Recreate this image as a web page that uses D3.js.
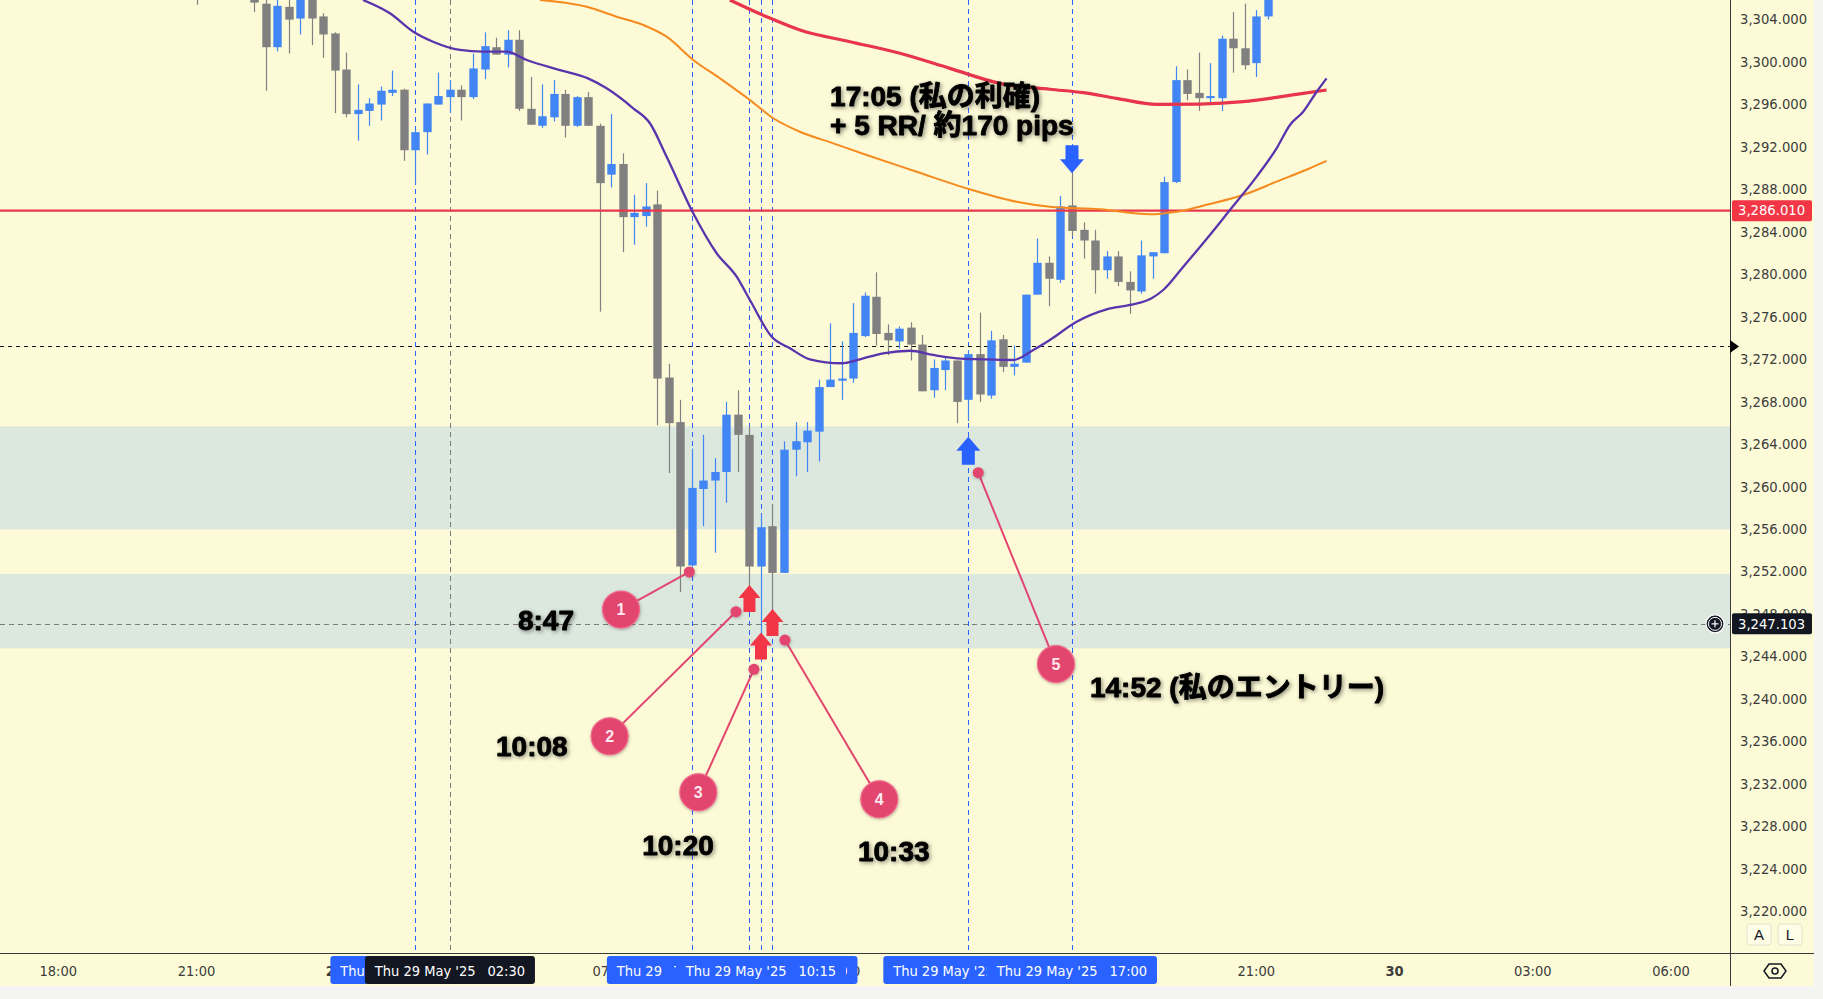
<!DOCTYPE html>
<html><head><meta charset="utf-8">
<script src="https://cdn.jsdelivr.net/npm/d3@7"></script>
<style>
html,body{margin:0;padding:0;background:#f4f4f2;}
svg{display:block;}
</style>
</head><body>
<svg id="chart" width="1823" height="999"></svg>
<script>
// ---------------- DATA ----------------
// 15-minute bars, index = bars since 28 May 18:00 (JST), 06:00-07:00 gap skipped
const barIdx = [12,17,18,19,20,21,22,23,24,25,26,27,28,29,30,31,32,33,34,35,36,37,38,39,40,41,42,43,44,45,46,47,48,49,50,51,52,53,54,55,56,57,58,59,60,61,62,63,64,65,66,67,68,69,70,71,72,73,74,75,76,77,78,79,80,81,82,83,84,85,86,87,88,89,90,91,92,93,94,95,96,97,98,99,100,101,102,103,104,105];
const opens = [3307.2,3306.6,3305.5,3301.4,3305.2,3304.1,3306.8,3304.3,3302.7,3299.3,3295.1,3295.4,3296.0,3297.1,3297.4,3291.7,3293.4,3296.0,3296.7,3297.4,3296.7,3299.3,3301.4,3300.7,3302.1,3295.6,3294.0,3294.8,3297.0,3294.0,3296.7,3294.0,3289.4,3290.4,3285.4,3285.5,3286.6,3270.3,3266.1,3252.6,3259.8,3260.6,3261.4,3266.8,3264.9,3252.5,3256.3,3251.9,3263.5,3264.2,3265.2,3269.4,3270.0,3270.2,3274.2,3277.9,3274.5,3273.7,3275.0,3273.4,3269.1,3271.0,3271.9,3268.2,3272.5,3268.6,3273.9,3271.3,3271.7,3278.1,3281.1,3279.5,3286.5,3284.2,3283.2,3280.4,3281.7,3279.3,3278.4,3281.7,3282.0,3288.7,3298.3,3297.1,3296.6,3296.6,3302.2,3301.3,3299.9,3304.3];
const highs = [3308.0,3307.5,3306.3,3306.2,3306.3,3307.5,3307.2,3304.6,3302.8,3300.9,3297.9,3296.6,3297.7,3299.2,3297.5,3293.7,3296.1,3299.0,3298.3,3297.8,3300.8,3302.8,3302.3,3303.0,3303.0,3298.6,3297.9,3298.3,3297.4,3296.8,3297.2,3294.2,3295.1,3291.4,3287.5,3288.6,3287.9,3271.6,3268.2,3263.6,3264.9,3262.7,3268.0,3269.1,3265.7,3257.4,3258.4,3264.3,3266.1,3266.1,3270.1,3275.4,3273.7,3277.3,3278.3,3280.2,3275.3,3275.1,3275.5,3274.3,3272.0,3272.3,3271.9,3272.9,3276.4,3274.7,3274.3,3273.3,3278.1,3283.4,3281.7,3287.4,3289.6,3284.9,3284.2,3282.2,3282.2,3280.3,3283.2,3282.1,3289.2,3299.6,3299.3,3300.9,3299.9,3302.5,3304.7,3305.5,3304.9,3307.5];
const lows = [3305.4,3304.7,3297.3,3301.0,3300.8,3302.6,3301.6,3300.4,3295.2,3294.8,3292.6,3294.0,3294.5,3296.8,3290.7,3288.6,3291.3,3296.0,3295.2,3294.5,3296.5,3298.4,3300.7,3299.5,3295.4,3294.1,3293.8,3294.4,3292.9,3293.9,3294.0,3276.5,3288.2,3282.1,3282.8,3284.5,3265.8,3261.3,3250.1,3252.5,3256.3,3253.8,3258.5,3261.4,3250.0,3245.5,3248.4,3251.9,3261.0,3261.4,3262.4,3269.4,3268.2,3269.8,3274.1,3273.3,3272.4,3273.0,3271.9,3269.0,3268.4,3269.1,3266.0,3266.2,3268.0,3268.3,3270.8,3270.5,3271.7,3278.1,3277.0,3279.2,3283.6,3281.5,3278.2,3279.6,3278.9,3276.3,3278.2,3279.6,3282.0,3288.6,3296.4,3295.4,3296.1,3295.4,3299.0,3299.3,3298.6,3304.0];
const closes = [3306.8,3305.6,3301.4,3305.3,3304.0,3306.8,3304.1,3302.6,3299.2,3295.1,3295.5,3296.1,3297.3,3297.4,3291.7,3293.4,3296.1,3296.8,3297.4,3296.7,3299.4,3301.5,3300.7,3302.1,3295.6,3294.1,3294.9,3297.0,3294.0,3296.7,3294.0,3288.6,3290.4,3285.4,3285.8,3286.4,3270.2,3266.0,3252.5,3259.9,3260.6,3261.4,3266.8,3264.9,3252.5,3256.2,3251.9,3263.5,3264.3,3265.3,3269.4,3270.1,3270.2,3274.5,3278.0,3274.4,3273.8,3274.9,3273.4,3269.0,3271.2,3271.9,3268.0,3272.5,3268.7,3273.8,3271.3,3271.6,3278.1,3281.1,3279.6,3286.4,3284.1,3283.2,3280.4,3281.7,3279.3,3278.5,3281.8,3282.1,3288.7,3298.3,3297.0,3296.6,3296.8,3302.2,3301.3,3299.7,3304.3,3306.8];

// moving averages: [bar, price]
const maFastBar = [26.45,28.79,30.82,32.53,34.87,36.87,38.92,40.66,43.55,45.98,47.6,49.91,51.36,52.81,55.12,57.15,58.89,60.04,61.93,63.52,65.25,68.0,69.59,71.61,73.93,75.95,77.99,80.3,82.9,84.64,86.08,88.4,91.01,93.03,94.91,95.92,97.66,99.97,101.71,104.03,105.76,106.92,108.07,109.24,110.1];
const maFastVal = [3305.85,3304.59,3302.86,3301.92,3301.14,3300.98,3300.98,3300.20,3299.25,3298.47,3297.53,3295.65,3294.24,3291.09,3285.76,3282.0,3279.79,3277.60,3274.14,3273.05,3272.01,3271.64,3272.01,3272.58,3272.82,3272.42,3272.11,3272.01,3271.95,3272.89,3273.83,3275.55,3276.72,3277.13,3277.76,3278.54,3280.73,3283.72,3286.07,3289.21,3291.88,3294.08,3295.33,3297.21,3298.47];
const maMidBar = [41.81,45.87,48.47,50.78,52.81,55.12,57.44,60.04,62.07,64.38,67.27,70.17,74.51,78.85,83.19,86.08,90.42,94.77,97.08,99.97,102.86,105.76,108.65,110.1];
const maMidVal = [3305.85,3305.21,3304.27,3303.49,3302.39,3300.2,3298.47,3296.43,3294.71,3293.44,3292.35,3291.25,3289.68,3288.11,3286.85,3286.38,3286.14,3285.67,3285.91,3286.64,3287.48,3288.74,3290.0,3290.69];
const maSlowBar = [58.3,61.49,64.38,68.72,73.06,77.4,81.74,86.08,88.98,91.87,95.35,99.1,102.86,105.76,108.07,110.1];
const maSlowVal = [3305.85,3304.27,3303.02,3301.92,3300.83,3299.41,3298.0,3297.44,3297.12,3296.59,3296.02,3296.05,3296.27,3296.68,3297.06,3297.37];

// zones and levels
const zoneTop = [3265.7, 3251.8];
const zoneBottom = [3256.0, 3244.8];
const resistanceLevel = 3286.010;
const lastPriceLevel = 3273.22;
const crossBar = 34;
const crossPrice = 3247.103;
const crossLabel = "Thu 29 May '25";
const crossTime = "02:30";

// vertical marker lines (bars) and their axis labels
const markBars = [31, 55, 60, 62, 61, 79, 88];
const markDates = ["Thu 29 May '25","Thu 29 May '25","Thu 29 May '25","Thu 29 May '25","Thu 29 May '25","Thu 29 May '25","Thu 29 May '25"];
const markTimes = ["01:45","08:45","10:00","10:30","10:15","14:45","17:00"];

// axis ticks
const priceTicks = [3220,3224,3228,3232,3236,3240,3244,3248,3252,3256,3260,3264,3268,3272,3276,3280,3284,3288,3292,3296,3300,3304];
const timeTickBars = [0,12,24,36,48,56,68,80,92,104,116,128,140];
const timeTickLabels = ["18:00","21:00","29","03:00","07:00","09:00","12:00","15:00","18:00","21:00","30","03:00","06:00"];

// arrows
const arrowBar = [60, 61, 62, 79, 88];
const arrowPrice = [3250.76, 3246.3, 3248.5, 3264.73, 3289.53];
const arrowDir = ["up","up","up","up","down"];
const arrowKind = ["red","red","red","blue","blue"];

// numbered callouts
const calloutNum = ["1","2","3","4","5"];
const calloutPtBar = [54.78, 58.83, 60.39, 63.08, 79.86];
const calloutPtPrice = [3251.99, 3248.25, 3242.82, 3245.58, 3261.34];
const calloutLblBar = [48.85, 47.86, 55.56, 71.27, 86.61];
const calloutLblPrice = [3248.45, 3236.51, 3231.24, 3230.58, 3243.32];

// text notes
const noteText = ["8:47","10:08","10:20","10:33","14:52 (私のエントリー)","17:05 (私の利確)","+ 5 RR/ 約170 pips"];
const noteBar = [39.9, 38.0, 50.69, 69.42, 89.56, 67.0, 67.0];
const notePrice = [3246.52, 3234.66, 3225.34, 3224.77, 3240.22, 3295.82, 3293.13];

// ---------------- LAYOUT ----------------
const W = 1823, H = 999;
const chartW = 1814, chartH = 986;
const plotW = 1730, plotH = 953;
const BG = "#fdfbd7";
const UP = "#4285f4", DOWN = "#808080";
const RED = "#f23645", BLUE = "#2962ff", PINK = "#e2456d";

const x = d3.scaleLinear().domain([0, 140]).range([58.3, 1671]);
const y = d3.scaleLinear().domain([3220, 3304]).range([911.7, 19.6]);

const svg = d3.select("#chart");
const defs = svg.append("defs");
defs.append("clipPath").attr("id","plotclip").append("rect").attr("x",0).attr("y",0).attr("width",plotW).attr("height",plotH);
const sh = defs.append("filter").attr("id","tshadow").attr("x","-20%").attr("y","-40%").attr("width","140%").attr("height","180%");
sh.append("feDropShadow").attr("dx",1.5).attr("dy",1.5).attr("stdDeviation",2).attr("flood-color","#000").attr("flood-opacity",0.45);
const cs = defs.append("filter").attr("id","cshadow").attr("x","-50%").attr("y","-50%").attr("width","200%").attr("height","200%");
cs.append("feDropShadow").attr("dx",0.5).attr("dy",1).attr("stdDeviation",1.5).attr("flood-color","#000").attr("flood-opacity",0.3);

svg.append("rect").attr("x",0).attr("y",0).attr("width",chartW).attr("height",chartH).attr("fill",BG);

const plot = svg.append("g").attr("clip-path","url(#plotclip)");

// zones
plot.selectAll("rect.zone").data(zoneTop).enter().append("rect")
  .attr("class","zone").attr("x",0).attr("width",plotW)
  .attr("y",(d)=>y(d)).attr("height",(d,i)=>y(zoneBottom[i])-y(d))
  .attr("fill","#dce7de");

// vertical blue dashed lines
plot.selectAll("line.vmark").data(markBars).enter().append("line")
  .attr("x1",d=>Math.round(x(d))+0.5).attr("x2",d=>Math.round(x(d))+0.5)
  .attr("y1",0).attr("y2",plotH)
  .attr("stroke",BLUE).attr("stroke-width",1).attr("stroke-dasharray","5,4");

// crosshair
plot.append("line").attr("x1",Math.round(x(crossBar))+0.5).attr("x2",Math.round(x(crossBar))+0.5)
  .attr("y1",0).attr("y2",plotH).attr("stroke","#7a7a80").attr("stroke-dasharray","5,4");
plot.append("line").attr("x1",0).attr("x2",plotW).attr("y1",Math.round(y(crossPrice))+0.5).attr("y2",Math.round(y(crossPrice))+0.5)
  .attr("stroke","#7a7a80").attr("stroke-dasharray","5,4");

// last price dashed line
plot.append("line").attr("x1",0).attr("x2",plotW).attr("y1",Math.round(y(lastPriceLevel))+0.5).attr("y2",Math.round(y(lastPriceLevel))+0.5)
  .attr("stroke","#111").attr("stroke-dasharray","4,4");

// candles
const candles = plot.append("g");
const bodyW = 8.4;
barIdx.forEach((b,i)=>{
  const o=opens[i], c=closes[i], h=highs[i], l=lows[i];
  const col = c>=o ? UP : DOWN;
  const cx = Math.round(x(b))+0.5;
  candles.append("line").attr("x1",cx).attr("x2",cx).attr("y1",y(h)).attr("y2",y(l)).attr("stroke",col).attr("stroke-width",1.2);
  const top = y(Math.max(o,c)), bot = y(Math.min(o,c));
  candles.append("rect").attr("x",cx-bodyW/2).attr("width",bodyW).attr("y",top).attr("height",Math.max(1.5,bot-top)).attr("fill",col);
});

// horizontal resistance line
plot.append("line").attr("x1",0).attr("x2",plotW).attr("y1",y(resistanceLevel)).attr("y2",y(resistanceLevel))
  .attr("stroke","#e8384d").attr("stroke-width",2.2);

// moving averages
const line = d3.line().x(d=>x(d[0])).y(d=>y(d[1])).curve(d3.curveMonotoneX);
plot.append("path").datum(maSlowBar.map((b,i)=>[b,maSlowVal[i]])).attr("d",line).attr("fill","none").attr("stroke","#e8344c").attr("stroke-width",3.2);
plot.append("path").datum(maMidBar.map((b,i)=>[b,maMidVal[i]])).attr("d",line).attr("fill","none").attr("stroke","#f58a1f").attr("stroke-width",2);
plot.append("path").datum(maFastBar.map((b,i)=>[b,maFastVal[i]])).attr("d",line).attr("fill","none").attr("stroke","#5a34ad").attr("stroke-width",2.3);

// arrows
function arrowPath(cx, tipY, dir, big){
  const hw = big?12:11, hh = big?14:13, sw = big?6.5:6, shh = big?14:14;
  const s = dir==="up"?1:-1;
  const p = [[cx,tipY],[cx+hw,tipY+s*hh],[cx+sw,tipY+s*hh],[cx+sw,tipY+s*(hh+shh)],[cx-sw,tipY+s*(hh+shh)],[cx-sw,tipY+s*hh],[cx-hw,tipY+s*hh]];
  return "M"+p.map(q=>q.join(",")).join("L")+"Z";
}
arrowBar.forEach((b,i)=>{
  plot.append("path").attr("d",arrowPath(x(b), y(arrowPrice[i]), arrowDir[i], arrowKind[i]==="blue"))
    .attr("fill", arrowKind[i]==="red" ? RED : BLUE);
});

// callouts
const cg = svg.append("g");
calloutNum.forEach((n,i)=>{
  const px = x(calloutPtBar[i]), py = y(calloutPtPrice[i]);
  const lx = x(calloutLblBar[i]), ly = y(calloutLblPrice[i]);
  cg.append("line").attr("x1",px).attr("y1",py).attr("x2",lx).attr("y2",ly).attr("stroke",PINK).attr("stroke-width",2);
  cg.append("circle").attr("cx",px).attr("cy",py).attr("r",5.5).attr("fill",PINK).attr("filter","url(#cshadow)");
  cg.append("circle").attr("cx",lx).attr("cy",ly).attr("r",18.5).attr("fill",PINK).attr("stroke","#f06a8c").attr("stroke-width",1.2).attr("filter","url(#cshadow)");
  cg.append("text").attr("x",lx).attr("y",ly+5.5).attr("text-anchor","middle")
    .attr("font-family","'Liberation Sans', Arial, sans-serif").attr("font-weight",700).attr("font-size",16)
    .attr("fill","#fde8ee").text(n);
});

// text notes
const tg = svg.append("g");
noteText.forEach((t,i)=>{
  tg.append("text").attr("x",x(noteBar[i])).attr("y",y(notePrice[i]))
    .attr("font-family","'Liberation Sans', 'Noto Sans CJK JP', Arial, sans-serif")
    .attr("font-weight",700).attr("font-size",28).attr("fill","#000")
    .attr("stroke","#000").attr("stroke-width",0.9).attr("stroke-linejoin","round")
    .attr("filter","url(#tshadow)").text(t);
});

// ---------------- AXES ----------------
const axG = svg.append("g");
axG.append("line").attr("x1",plotW+0.5).attr("x2",plotW+0.5).attr("y1",0).attr("y2",chartH).attr("stroke","#3a3a3a").attr("stroke-width",1);
axG.append("line").attr("x1",0).attr("x2",chartW).attr("y1",plotH+0.5).attr("y2",plotH+0.5).attr("stroke","#3a3a3a").attr("stroke-width",1);

const fmt = d3.format(",.3f");
const priceFont = "'DejaVu Sans', Verdana, sans-serif";
axG.selectAll("text.pt").data(priceTicks).enter().append("text")
  .attr("x",1740).attr("y",d=>y(d)).attr("dy","0.35em")
  .attr("font-family",priceFont).attr("font-size",13.2).attr("fill","#3c3c3c")
  .text(d=>fmt(d));

// bottom-right button panel
axG.append("rect").attr("x",plotW+1).attr("y",919).attr("width",chartW-plotW-1).attr("height",plotH-919).attr("fill",BG);
[["A",1759],["L",1790]].forEach(([t,cx])=>{
  axG.append("rect").attr("x",cx-12).attr("y",924).attr("width",24).attr("height",21).attr("rx",3)
    .attr("fill","#fffde6").attr("stroke","#e4e2cc");
  axG.append("text").attr("x",cx).attr("y",940).attr("text-anchor","middle")
    .attr("font-family","'Liberation Sans', Arial, sans-serif").attr("font-size",15).attr("fill","#131722").text(t);
});

// resistance label
axG.append("rect").attr("x",plotW+2).attr("y",y(resistanceLevel)-10.5).attr("width",80).attr("height",21).attr("rx",2).attr("fill",RED);
axG.append("text").attr("x",1738).attr("y",y(resistanceLevel)).attr("dy","0.36em")
  .attr("font-family",priceFont).attr("font-size",13.2).attr("fill","#fff").text(fmt(resistanceLevel));

// last price marker
axG.append("path").attr("d",`M${plotW},${y(lastPriceLevel)-6.5}L${plotW+9},${y(lastPriceLevel)}L${plotW},${y(lastPriceLevel)+6.5}Z`).attr("fill","#000");

// crosshair price label
axG.append("rect").attr("x",plotW+2).attr("y",y(crossPrice)-10.5).attr("width",80).attr("height",21).attr("rx",2).attr("fill","#131722");
axG.append("text").attr("x",1738).attr("y",y(crossPrice)).attr("dy","0.36em")
  .attr("font-family",priceFont).attr("font-size",13.2).attr("fill","#fff").text(fmt(crossPrice));
const pc = axG.append("g").attr("transform",`translate(1715,${y(crossPrice)})`);
pc.append("circle").attr("r",9).attr("fill","#131722").attr("stroke","#fff").attr("stroke-width",1.2);
pc.append("circle").attr("r",6.5).attr("fill","none").attr("stroke","#fff").attr("stroke-width",1);
pc.append("line").attr("x1",-3.5).attr("x2",3.5).attr("stroke","#fff").attr("stroke-width",1.2);
pc.append("line").attr("y1",-3.5).attr("y2",3.5).attr("stroke","#fff").attr("stroke-width",1.2);

// time axis labels
const timeFont = "'Liberation Sans Narrow', 'DejaVu Sans Condensed', 'Arial Narrow', sans-serif";
axG.selectAll("text.tt").data(timeTickBars).enter().append("text")
  .attr("x",d=>x(d)).attr("y",976).attr("text-anchor","middle")
  .attr("font-family",timeFont).attr("font-size",14.5)
  .attr("font-weight",(d,i)=>/^\d\d$/.test(timeTickLabels[i])?700:400)
  .attr("fill","#3c3c3c").text((d,i)=>timeTickLabels[i]);

function timeBox(bar, date, time, fill){
  const cx = x(bar);
  const g = axG.append("g");
  g.append("rect").attr("x",cx-85).attr("y",956).attr("width",170).attr("height",28).attr("rx",3).attr("fill",fill);
  const t = g.append("text").attr("x",cx).attr("y",975.5).attr("text-anchor","middle")
    .attr("font-family",timeFont).attr("font-size",14.5).attr("fill","#fff");
  t.append("tspan").text(date);
  t.append("tspan").attr("dx",12).text(time);
}
markBars.forEach((b,i)=>{
  timeBox(b, markDates[i], markTimes[i], BLUE);
  if(i===0) timeBox(crossBar, crossLabel, crossTime, "#131722");
});

// settings icon
const gi = axG.append("g").attr("transform","translate(1775,971)");
gi.append("path").attr("d","M-11,0L-6,-7L6,-7L11,0L6,7L-6,7Z").attr("fill","none").attr("stroke","#131722").attr("stroke-width",1.5);
gi.append("circle").attr("r",3).attr("fill","none").attr("stroke","#131722").attr("stroke-width",1.5);
</script>
</body></html>
